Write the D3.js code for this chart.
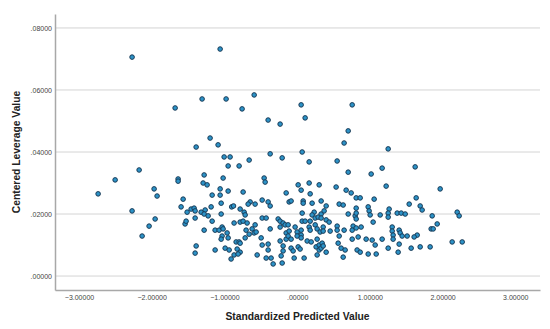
<!DOCTYPE html>
<html>
<head>
<meta charset="utf-8">
<script src="https://cdn.jsdelivr.net/npm/d3@7/dist/d3.min.js"></script>
<style>
  body { margin: 0; background: #fff; }
  svg text { font-family: "Liberation Sans", Arial, sans-serif; }
  .tick text { font-size: 7px; fill: #444; }
  .axis-title { font-size: 10.3px; font-weight: bold; fill: #222; }
</style>
</head>
<body>
<div id="chart"></div>
<script>
// scatter: leverage vs standardized predicted value
var xTicks = [-3, -2, -1, 0, 1, 2, 3];
var yTicks = [0, 0.02, 0.04, 0.06, 0.08];

// standardized predicted value (x) of every case
var predicted = [
  -2.737, -2.503, -2.270, -2.270, -2.173, -2.132, -2.036, -1.967, -1.926, -1.953,
  -1.678, -1.637, -1.637, -1.596, -1.568, -1.541, -1.527, -1.513, -1.458, -1.417,
  -1.403, -1.403, -1.389, -1.389, -1.403, -1.307, -1.293, -1.279, -1.238, -1.320,
  -1.265, -1.279, -1.224, -1.183, -1.169, -1.169, -1.279, -1.197, -1.128, -1.128,
  -1.073, -1.087, -1.059, -1.059, -1.059, -1.045, -1.045, -1.032, -1.018, -1.018,
  -1.004, -0.922, -0.949, -0.798, -0.977, -0.963, -1.032, -1.045, -0.949, -0.949,
  -0.900, -0.875, -0.867, -0.839, -0.798, -0.990, -0.935, -0.825, -0.784, -0.867,
  -0.908, -0.812, -0.784, -0.784, -0.743, -0.743, -0.757, -0.591, -0.660, -0.729,
  -0.715, -0.688, -0.702, -0.619, -0.660, -0.591, -0.564, -0.578, -0.646, -0.578,
  -0.674, -0.715, -0.784, -0.550, -0.481, -0.399, -0.371, -0.454, -0.440, -0.399,
  -0.371, -0.481, -0.426, -0.371, -0.495, -0.481, -0.399, -0.399, -0.426, -0.358,
  -0.330, -0.234, -0.206, -0.151, -0.110, -0.083, -0.261, -0.234, -0.193, -0.165,
  -0.124, -0.234, -0.151, -0.110, -0.234, -0.151, -0.124, -0.083, -0.193, -0.193,
  -0.083, -0.055, -0.220, -0.206, -0.041, -0.028, 0.000, 0.055, 0.055, 0.000,
  0.055, 0.014, 0.041, 0.014, 0.055, 0.069, 0.055, 0.110, 0.083, 0.083,
  0.069, 0.069, 0.110, 0.096, 0.165, 0.165, 0.179, 0.206, 0.234, 0.206,
  0.179, 0.248, 0.289, 0.165, 0.179, 0.248, 0.275, 0.138, 0.193, 0.275,
  0.261, 0.275, 0.303, 0.330, 0.330, 0.371, 0.330, 0.316, 0.358, 0.303,
  0.344, 0.303, 0.330, 0.399, 0.399, 0.440, 0.358, 0.454, 0.399, 0.358,
  0.550, 0.536, 0.674, 0.702, 0.743, 0.578, 0.633, 0.646, 0.702, 0.757,
  0.550, 0.550, 0.646, 0.578, 0.564, 0.605, 0.660, 0.633, 0.702, 0.770,
  0.757, 0.812, 0.880, 0.798, 0.812, 0.812, 0.812, 0.812, 0.867, 0.757,
  0.839, 0.949, 0.825, 0.867, 0.977, 1.018, 1.059, 0.977, 0.990, 1.004,
  1.045, 1.032, 1.073, 1.087, 1.169, 1.224, 1.252, 1.142, 1.169, 1.265,
  1.252, 1.252, 1.307, 1.307, 1.320, 1.320, 1.376, 1.431, 1.486, 1.403,
  1.417, 1.444, 1.403, 1.252, 1.389, 1.623, 1.967, 1.637, 1.541, 1.692,
  1.719, 1.857, 2.201, 2.228, 1.926, 1.843, 1.871, 1.651, 1.609, 1.513,
  2.132, 2.270, 1.568, 1.692, 1.829
];

// centered leverage value (y), same order
var leverage = [
  0.0265, 0.0310, 0.0706, 0.0210, 0.0342, 0.0129, 0.0161, 0.0281, 0.0258, 0.0184,
  0.0542, 0.0313, 0.0306, 0.0223, 0.0248, 0.0168, 0.0177, 0.0206, 0.0216, 0.0219,
  0.0210, 0.0187, 0.0416, 0.0097, 0.0074, 0.0571, 0.0300, 0.0326, 0.0294, 0.0206,
  0.0213, 0.0200, 0.0194, 0.0223, 0.0261, 0.0177, 0.0148, 0.0445, 0.0148, 0.0084,
  0.0148, 0.0423, 0.0732, 0.0281, 0.0261, 0.0235, 0.0200, 0.0158, 0.0152, 0.0316,
  0.0384, 0.0384, 0.0355, 0.0355, 0.0571, 0.0139, 0.0129, 0.0119, 0.0123, 0.0274,
  0.0223, 0.0226, 0.0171, 0.0110, 0.0110, 0.0090, 0.0084, 0.0087, 0.0077, 0.0068,
  0.0055, 0.0071, 0.0216, 0.0174, 0.0177, 0.0271, 0.0539, 0.0584, 0.0374, 0.0206,
  0.0197, 0.0171, 0.0148, 0.0152, 0.0135, 0.0139, 0.0142, 0.0165, 0.0239, 0.0232,
  0.0232, 0.0123, 0.0106, 0.0068, 0.0245, 0.0239, 0.0226, 0.0316, 0.0303, 0.0503,
  0.0394, 0.0187, 0.0187, 0.0152, 0.0123, 0.0100, 0.0103, 0.0084, 0.0058, 0.0058,
  0.0039, 0.0490, 0.0381, 0.0268, 0.0239, 0.0242, 0.0184, 0.0177, 0.0171, 0.0165,
  0.0165, 0.0158, 0.0139, 0.0145, 0.0113, 0.0119, 0.0129, 0.0119, 0.0097, 0.0081,
  0.0090, 0.0081, 0.0065, 0.0042, 0.0058, 0.0158, 0.0142, 0.0148, 0.0132, 0.0129,
  0.0123, 0.0094, 0.0087, 0.0294, 0.0277, 0.0400, 0.0552, 0.0510, 0.0242, 0.0235,
  0.0203, 0.0177, 0.0177, 0.0058, 0.0368, 0.0300, 0.0265, 0.0235, 0.0206, 0.0197,
  0.0177, 0.0187, 0.0190, 0.0158, 0.0148, 0.0165, 0.0152, 0.0113, 0.0110, 0.0119,
  0.0094, 0.0068, 0.0294, 0.0242, 0.0200, 0.0210, 0.0187, 0.0142, 0.0158, 0.0100,
  0.0106, 0.0084, 0.0090, 0.0226, 0.0181, 0.0174, 0.0145, 0.0145, 0.0077, 0.0097,
  0.0371, 0.0287, 0.0277, 0.0335, 0.0268, 0.0232, 0.0229, 0.0429, 0.0468, 0.0552,
  0.0161, 0.0148, 0.0148, 0.0129, 0.0106, 0.0090, 0.0084, 0.0061, 0.0200, 0.0161,
  0.0148, 0.0155, 0.0158, 0.0194, 0.0184, 0.0203, 0.0219, 0.0252, 0.0252, 0.0119,
  0.0126, 0.0119, 0.0084, 0.0077, 0.0071, 0.0329, 0.0248, 0.0223, 0.0210, 0.0197,
  0.0174, 0.0116, 0.0100, 0.0071, 0.0348, 0.0290, 0.0410, 0.0197, 0.0119, 0.0216,
  0.0203, 0.0190, 0.0158, 0.0145, 0.0132, 0.0119, 0.0203, 0.0203, 0.0200, 0.0148,
  0.0139, 0.0129, 0.0103, 0.0090, 0.0077, 0.0352, 0.0281, 0.0252, 0.0232, 0.0226,
  0.0213, 0.0194, 0.0206, 0.0194, 0.0168, 0.0152, 0.0152, 0.0132, 0.0126, 0.0129,
  0.0110, 0.0110, 0.0090, 0.0094, 0.0094
];

var W = 550, H = 329;
var plot = {left: 55, right: 540, top: 14, bottom: 290};

var svg = d3.select("#chart").append("svg")
    .attr("width", W)
    .attr("height", H);

var x = d3.scaleLinear()
    .domain([-3.33, 3.34])
    .range([plot.left, plot.right]);

var y = d3.scaleLinear()
    .domain([-0.0045, 0.0845])
    .range([plot.bottom, plot.top]);

// spss style labels: ".08000", "-3.00000"
function fmt(v) {
  return d3.format(".5f")(v).replace(/^(-?)0\./, "$1.");
}

// gridlines
svg.append("g")
  .selectAll("line")
    .data(yTicks)
  .enter().append("line")
    .attr("x1", plot.left)
    .attr("x2", plot.right)
    .attr("y1", function(d) { return y(d); })
    .attr("y2", function(d) { return y(d); })
    .attr("stroke", "#d4d4d4")
    .attr("stroke-width", 1);

svg.append("g")
    .attr("transform", "translate(" + plot.left + ",0)")
    .call(d3.axisLeft(y).tickValues(yTicks).tickFormat(fmt).tickSize(0).tickPadding(3));

svg.append("g")
    .attr("transform", "translate(0," + plot.bottom + ")")
    .call(d3.axisBottom(x).tickValues(xTicks).tickFormat(fmt).tickSize(0).tickPadding(5));

svg.selectAll(".domain")
    .style("stroke", "#a8a8a8")
    .style("stroke-width", 1.5);

// points
var pts = predicted.map(function(d, i) { return {x: d, y: leverage[i]}; });

svg.append("g")
  .selectAll("circle")
    .data(pts)
  .enter().append("circle")
    .attr("cx", function(d) { return x(d.x); })
    .attr("cy", function(d) { return y(d.y); })
    .attr("r", 2.3)
    .attr("fill", "#2c93c8")
    .attr("stroke", "#183a56")
    .attr("stroke-width", 1);

// axis titles
svg.append("text")
    .attr("class", "axis-title")
    .attr("x", (plot.left + plot.right) / 2)
    .attr("y", 320)
    .attr("text-anchor", "middle")
    .text("Standardized Predicted Value");

svg.append("text")
    .attr("class", "axis-title")
    .attr("transform", "translate(19.5," + ((plot.top + plot.bottom) / 2) + ") rotate(-90)")
    .attr("text-anchor", "middle")
    .text("Centered Leverage Value");
</script>
</body>
</html>
